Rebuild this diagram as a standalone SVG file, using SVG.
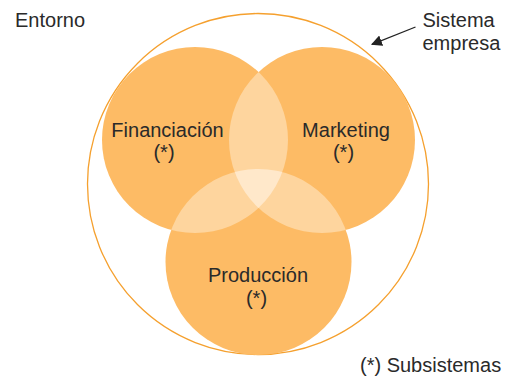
<svg xmlns="http://www.w3.org/2000/svg" width="512" height="378" viewBox="0 0 512 378">
<style>
text{font-family:"Liberation Sans",Arial,Helvetica,sans-serif;font-size:20px;fill:#2a2a2a}
.c{text-anchor:middle}
.sub{fill:#FDBB65}
.ov2{fill:#FED59E}
.ov3{fill:#FFE8CA}
</style>
<defs>
<clipPath id="cF"><circle cx="195" cy="140" r="93"/></clipPath>
<clipPath id="cM"><circle cx="322" cy="140" r="93"/></clipPath>
<clipPath id="cFM" clip-path="url(#cF)"><circle cx="322" cy="140" r="93"/></clipPath>
<marker id="ah" viewBox="0 0 10 10" refX="9" refY="5" markerWidth="11" markerHeight="11" markerUnits="userSpaceOnUse" orient="auto"><path d="M0,0 L10,5 L0,10 z" fill="#222"/></marker>
</defs>
<rect width="512" height="378" fill="#fff"/>
<g id="sistema-empresa">
<circle cx="258" cy="184" r="170.5" fill="none" stroke="#F5A02E" stroke-width="1.3"/>
</g>
<g id="financiacion">
<circle class="sub" cx="195" cy="140" r="93"/>
</g>
<g id="marketing">
<circle class="sub" cx="322" cy="140" r="93"/>
</g>
<g id="produccion">
<circle class="sub" cx="258.5" cy="262" r="93"/>
</g>
<g id="overlaps">
<circle class="ov2" cx="322" cy="140" r="93" clip-path="url(#cF)"/>
<circle class="ov2" cx="258.5" cy="262" r="93" clip-path="url(#cF)"/>
<circle class="ov2" cx="258.5" cy="262" r="93" clip-path="url(#cM)"/>
<circle class="ov3" cx="258.5" cy="262" r="93" clip-path="url(#cFM)"/>
</g>
<g id="labels">
<text class="c" x="167.5" y="136.5">Financiación</text>
<text class="c" x="164" y="159">(*)</text>
<text class="c" x="346" y="136.5">Marketing</text>
<text class="c" x="343.5" y="159">(*)</text>
<text class="c" x="258" y="281.5">Producción</text>
<text class="c" x="256.5" y="305">(*)</text>
<text x="15" y="26.5">Entorno</text>
<text x="422.5" y="26.5">Sistema</text>
<text x="422.5" y="49.5">empresa</text>
<text x="360" y="371.5">(*) Subsistemas</text>
</g>
<g id="connectors">
<line x1="415.5" y1="27" x2="372" y2="44.3" stroke="#222" stroke-width="1.3" marker-end="url(#ah)"/>
</g>
</svg>
